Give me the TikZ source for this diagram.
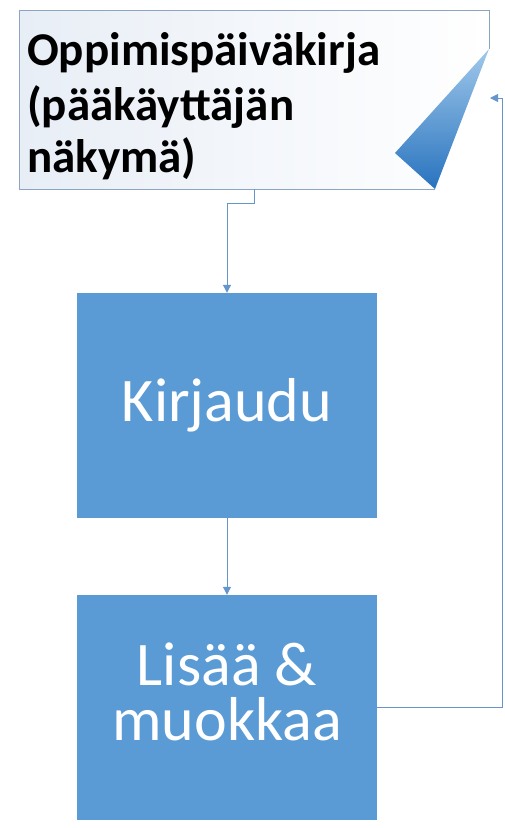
\documentclass[tikz,border=0pt]{standalone}
\usepackage{fontspec}
\setmainfont{Carlito}
\usetikzlibrary{arrows.meta}
\definecolor{boxblue}{RGB}{91,155,213}
\definecolor{linecol}{RGB}{100,150,205}
\definecolor{framecol}{RGB}{140,165,195}
\definecolor{foldtop}{RGB}{160,200,235}
\definecolor{foldbot}{RGB}{40,115,190}
\definecolor{paleleft}{RGB}{232,238,246}
\tikzset{
  stepbox/.style={rectangle, fill=boxblue, draw=none, minimum width=300pt, minimum height=225pt, inner sep=0pt, text=white, align=center, font=\fontsize{62}{55}\selectfont},
  boxtext/.style={anchor=base, inner sep=0pt, text=white, font=\fontsize{62}{55}\selectfont},
  conn/.style={draw=linecol, line width=1pt, -{Triangle[length=8pt,width=8pt]}},
  titletext/.style={anchor=base west, inner sep=0pt, font=\bfseries\fontsize{47}{53}\selectfont, text=black}
}
\begin{document}
\begin{tikzpicture}[x=1pt,y=-1pt]
\useasboundingbox (0,0) rectangle (504,828);
% top document shape
\shade[left color=paleleft, right color=white] (19,10) -- (489,10) -- (489,49) -- (435,189) -- (19,189) -- cycle;
\draw[framecol, line width=1pt] (435,189) -- (19,189) -- (19,10) -- (489,10) -- (489,49);
\shade[top color=foldtop, bottom color=foldbot, shading angle=0] (489,49) -- (395,153) -- (435,189) -- cycle;
\node[titletext] (t1) at (27,65) {Oppimispäiväkirja};
\node[titletext] (t2) at (27,120) {(pääkäyttäjän};
\node[titletext] (t3) at (27,172) {näkymä)};
\coordinate (topout) at (254,189);
\coordinate (topin) at (490,98);
% boxes
\node[stepbox] (k) at (227,405.5) {Kirjaudu};
\node[stepbox] (l) at (227,707.5) {};
\node[boxtext] (l1) at (227,685) {Lisää \&};
\node[boxtext] (l2) at (227,740) {muokkaa};
% connectors
\draw[conn] (topout) -- (254,203) -| (k.north);
\draw[conn] (k.south) -- (l.north);
\draw[conn] (l.east) -- (502,707.5) |- (topin);
\end{tikzpicture}
\end{document}
